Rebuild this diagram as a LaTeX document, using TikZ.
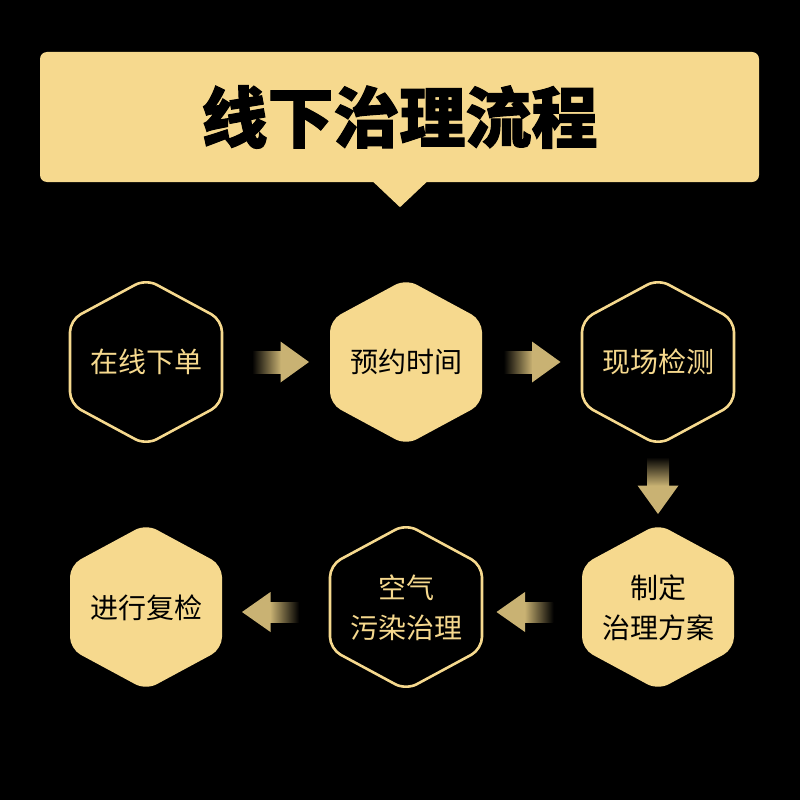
\documentclass[tikz,border=0pt]{standalone}
\usepackage{fontspec}
\setmainfont{Noto Sans CJK SC}
\newfontfamily\titlefont{Noto Sans CJK SC}[BoldFeatures={FakeBold=1.6}]
\usetikzlibrary{calc}
\definecolor{gold}{HTML}{F6D98E}
\definecolor{agold}{HTML}{C9B273}
\begin{document}
\begin{tikzpicture}[x=1pt,y=-1pt,
  hexfill/.style={fill=gold},
  hexline/.style={draw=gold, line width=2.6pt, fill=black},
  darktxt/.style={text=black, font=\fontsize{28}{40}\selectfont, align=center, inner sep=0pt},
  lighttxt/.style={text=gold, font=\fontsize{28}{40}\selectfont, align=center, inner sep=0pt},
  hexa/.pic={\path[pic actions, rounded corners=12pt] (0,-83) -- (76,-42) -- (76,42) -- (0,83) -- (-76,42) -- (-76,-42) -- cycle;},
  rarrow/.pic={
    \shade[left color=black, right color=agold] (-28.5,-11) rectangle (0.5,11);
    \fill[agold] (0,-20.5) -- (28.5,0) -- (0,20.5) -- cycle;},
  larrow/.pic={
    \shade[left color=agold, right color=black] (-0.5,-10) rectangle (28.5,10);
    \fill[agold] (0,-20) -- (-28.5,0) -- (0,20) -- cycle;},
  darrow/.pic={
    \shade[top color=black, bottom color=agold] (-11,-28.5) rectangle (11,0.5);
    \fill[agold] (-20.5,0) -- (0,28.5) -- (20.5,0) -- cycle;},
]
\fill[black] (0,0) rectangle (800,800);
\useasboundingbox (0,0) rectangle (800,800);

% banner
\node[fill=gold, rounded corners=7pt, minimum width=719pt, minimum height=130pt, inner sep=0pt,
      font=\fontsize{66}{70}\titlefont\bfseries, text=black] (banner) at (399.5,117) {线下治理流程};
\coordinate (tip) at ($(banner.south)+(0.5,25)$);
\fill[gold] ($(banner.south)+(-27,-1)$) -- ($(banner.south)+(28,-1)$) -- (tip) -- cycle;

% hexagon centres
\coordinate (c1) at (146,362);
\coordinate (c2) at (406,362);
\coordinate (c3) at (658,362);
\coordinate (c4) at (146,607);
\coordinate (c5) at (406,607);
\coordinate (c6) at (658,607);

\pic[hexline] at (c1) {hexa};
\pic[hexfill] at (c2) {hexa};
\pic[hexline] at (c3) {hexa};
\pic[hexfill] at (c4) {hexa};
\pic[hexline] at (c5) {hexa};
\pic[hexfill] at (c6) {hexa};

\node[lighttxt] (n1) at (c1) {在线下单};
\node[darktxt] (n2) at (c2) {预约时间};
\node[lighttxt] (n3) at (c3) {现场检测};
\node[darktxt] (n4) at ($(c4)+(0,1)$) {进行复检};
\node[lighttxt] (n5) at ($(c5)+(0,1)$) {空气\\污染治理};
\node[darktxt] (n6) at ($(c6)+(0,1)$) {制定\\治理方案};

% block arrows between the steps
\pic at ($(c1)!0.5!(c2)+(4.5,0)$) {rarrow};
\pic at ($(c2)!0.5!(c3)$) {rarrow};
\pic at ($(c3)!0.5!(c6)+(0,1)$) {darrow};
\pic at ($(c6)!0.5!(c5)+(-7,5)$) {larrow};
\pic at ($(c5)!0.5!(c4)+(-5.5,5)$) {larrow};
\end{tikzpicture}
\end{document}
